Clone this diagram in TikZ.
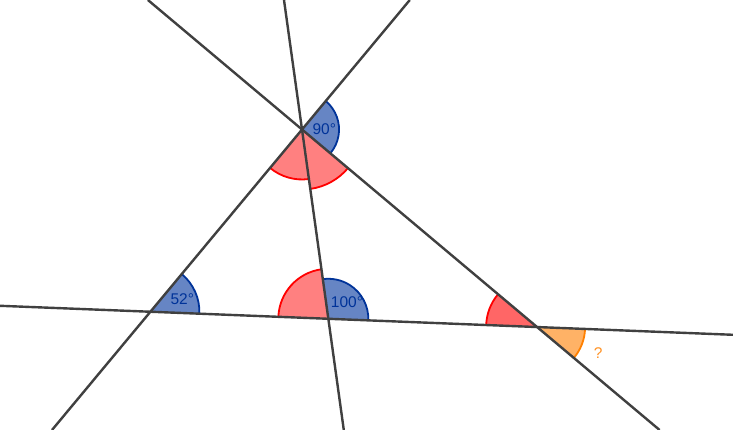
\documentclass[tikz,border=0pt]{standalone}
\usepackage{fontspec}
\setmainfont{Liberation Sans}
\usetikzlibrary{angles}
\definecolor{linegray}{RGB}{64,64,64}
\definecolor{bluefill}{RGB}{102,133,196}
\definecolor{blueedge}{RGB}{0,51,153}
\definecolor{redfill}{RGB}{255,128,128}
\definecolor{redfillD}{RGB}{255,102,102}
\definecolor{rededge}{RGB}{255,0,0}
\definecolor{orangefill}{RGB}{255,178,102}
\definecolor{orangeedge}{RGB}{255,128,0}
\tikzset{
  geoline/.style={draw=linegray, line width=2.4pt},
  blueangle/.style={draw=blueedge, fill=bluefill, line width=1.8pt},
  redangle/.style={draw=rededge, fill=redfill, line width=1.8pt},
  orangeangle/.style={draw=orangeedge, fill=orangefill, line width=1.8pt},
  anglabel/.style={inner sep=0pt, anchor=center, text=blueedge, font=\fontsize{15.5}{16}\selectfont}
}
\begin{document}
\begin{tikzpicture}[x=1pt,y=1pt]
\useasboundingbox (0,0) rectangle (733,430);
\clip (0,0) rectangle (733,430);
\fill[white] (0,0) rectangle (733,430);
% line end points
\coordinate (Hl) at (0,124.2);
\coordinate (Hr) at (733,95.2);
\coordinate (L1u) at (409.8,430);
\coordinate (L1d) at (52,0);
\coordinate (L2u) at (147.9,430);
\coordinate (L2d) at (659.6,0);
\coordinate (L3u) at (284,430);
\coordinate (L3d) at (343.8,0);
% vertices
\coordinate (A) at (intersection of L1u--L1d and L2u--L2d);
\coordinate (B) at (intersection of Hl--Hr and L1u--L1d);
\coordinate (C) at (intersection of Hl--Hr and L3u--L3d);
\coordinate (D) at (intersection of Hl--Hr and L2u--L2d);
% angle sectors
\pic[blueangle, angle radius=37pt] {angle = L2d--A--L1u};
\pic[redangle, angle radius=50pt] {angle = L1d--A--L3d};
\pic[redangle, angle radius=60pt] {angle = L3d--A--L2d};
\pic[blueangle, angle radius=49pt] {angle = Hr--B--L1u};
\pic[redangle, angle radius=50pt] {angle = L3u--C--Hl};
\pic[blueangle, angle radius=40pt] {angle = Hr--C--L3u};
\pic[redangle, fill=redfillD, angle radius=51pt] {angle = L2u--D--Hl};
\pic[orangeangle, angle radius=48pt] {angle = L2d--D--Hr};
% lines
\draw[geoline] (Hl) -- (Hr);
\draw[geoline] (L1u) -- (L1d);
\draw[geoline] (L2u) -- (L2d);
\draw[geoline] (L3u) -- (L3d);
% labels
\node[anglabel] (t90) at (324.3,301.2) {90°};
\node[anglabel] (t52) at (182.3,131.2) {52°};
\node[anglabel] (t100) at (347,128) {100°};
\node[anglabel, text=orangeedge!85!white] (tq) at (598.3,77) {?};
\end{tikzpicture}
\end{document}
